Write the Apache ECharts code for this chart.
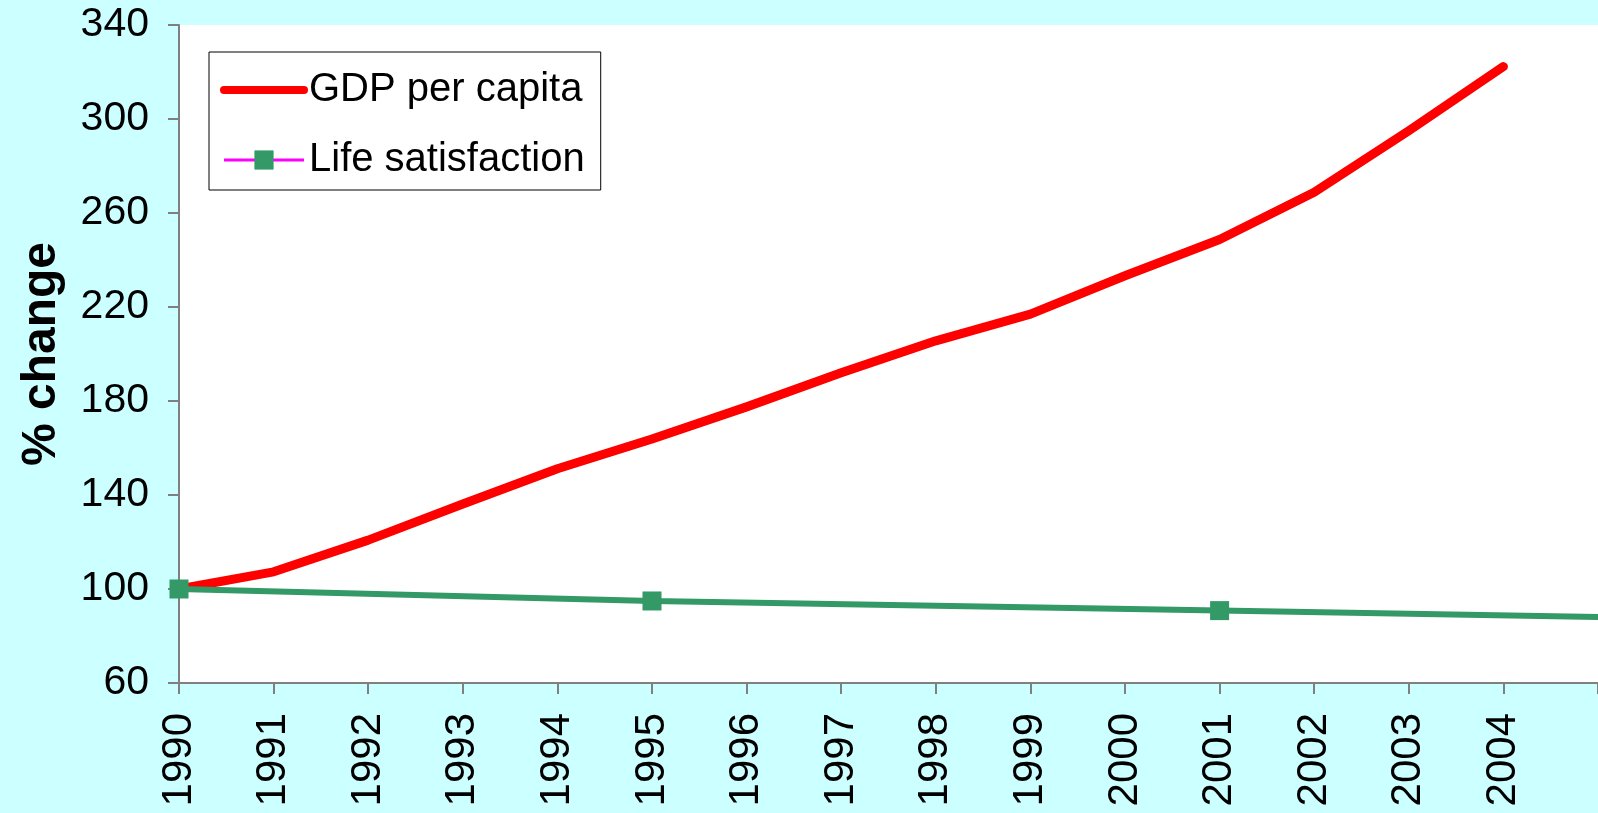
<!DOCTYPE html>
<html>
<head>
<meta charset="utf-8">
<script src="https://cdn.jsdelivr.net/npm/echarts@6/dist/echarts.min.js"></script>
<style>
html,body{margin:0;padding:0;background:#CCFFFF;}
#c{width:1598px;height:813px;}
</style>
</head>
<body>
<div id="c"></div>
<script>
const years = ['1990','1991','1992','1993','1994','1995','1996','1997','1998','1999','2000','2001','2002','2003','2004','2005'];
const gdpPerCapita = [100, 107.3, 120.8, 136.2, 151.2, 163.8, 177.5, 192, 205.6, 217, 233.3, 248.7, 268.8, 295, 322.3, null];
const lifeSatisfaction = [100, null, null, null, null, 94.9, null, null, null, null, null, 90.8, null, null, null, 88.1];
const lifeSatMarkerShown = [true, false, false, false, false, true, false, false, false, false, false, true, false, false, false, false];
const yTicks = {min: 60, max: 340, interval: 40};

const font = 'Liberation Sans, Arial, sans-serif';
const chart = echarts.init(document.getElementById('c'));
chart.setOption({
  backgroundColor: '#CCFFFF',
  animation: false,
  grid: {left: 179, right: 0, top: 25, bottom: 130, show: true, backgroundColor: '#FFFFFF', borderWidth: 0},
  legend: {
    orient: 'vertical',
    left: 209, top: 52,
    padding: [15, 16, 7, 11],
    itemGap: 24,
    itemWidth: 80, itemHeight: 24,
    backgroundColor: '#FFFFFF',
    borderColor: '#000000', borderWidth: 1,
    selectedMode: false,
    textStyle: {fontFamily: font, fontSize: 40, color: '#000', lineHeight: 46},
    data: [
      {name: 'GDP per capita', lineStyle: {color: '#FF0000', width: 8, cap: 'round'}, itemStyle: {color: 'rgba(0,0,0,0)', borderWidth: 0}},
      {name: 'Life satisfaction', lineStyle: {color: '#FF00FF', width: 3}, itemStyle: {color: '#339966'}}
    ]
  },
  xAxis: {
    type: 'category',
    data: years,
    boundaryGap: false,
    axisLine: {lineStyle: {color: '#808080', width: 2}},
    axisTick: {show: true, inside: false, length: 11, alignWithLabel: true, lineStyle: {color: '#808080', width: 2}},
    axisLabel: {
      rotate: 90, margin: 30, color: '#000', fontFamily: font, fontSize: 42, interval: 0,
      formatter: (v, i) => (i === years.length - 1 ? '' : v)
    },
    splitLine: {show: false}
  },
  yAxis: {
    type: 'value',
    min: yTicks.min, max: yTicks.max, interval: yTicks.interval,
    name: '% change',
    nameLocation: 'middle',
    nameGap: 113,
    nameTextStyle: {fontFamily: font, fontSize: 48, fontWeight: 'bold', color: '#000'},
    axisLine: {show: true, lineStyle: {color: '#808080', width: 2}},
    axisTick: {show: true, inside: false, length: 11, lineStyle: {color: '#808080', width: 2}},
    axisLabel: {margin: 30, color: '#000', fontFamily: font, fontSize: 41},
    splitLine: {show: false}
  },
  series: [
    {
      name: 'GDP per capita',
      type: 'line',
      data: gdpPerCapita,
      symbol: 'none',
      lineStyle: {color: '#FF0000', width: 9, cap: 'round', join: 'round'},
      itemStyle: {color: '#FF0000'}
    },
    {
      name: 'Life satisfaction',
      type: 'line',
      connectNulls: true,
      data: lifeSatisfaction.map((v, i) => ({value: v, symbol: lifeSatMarkerShown[i] ? 'rect' : 'none'})),
      symbol: 'rect',
      symbolSize: 19,
      showAllSymbol: true,
      lineStyle: {color: '#339966', width: 6},
      itemStyle: {color: '#339966'}
    }
  ]
});
</script>
</body>
</html>
